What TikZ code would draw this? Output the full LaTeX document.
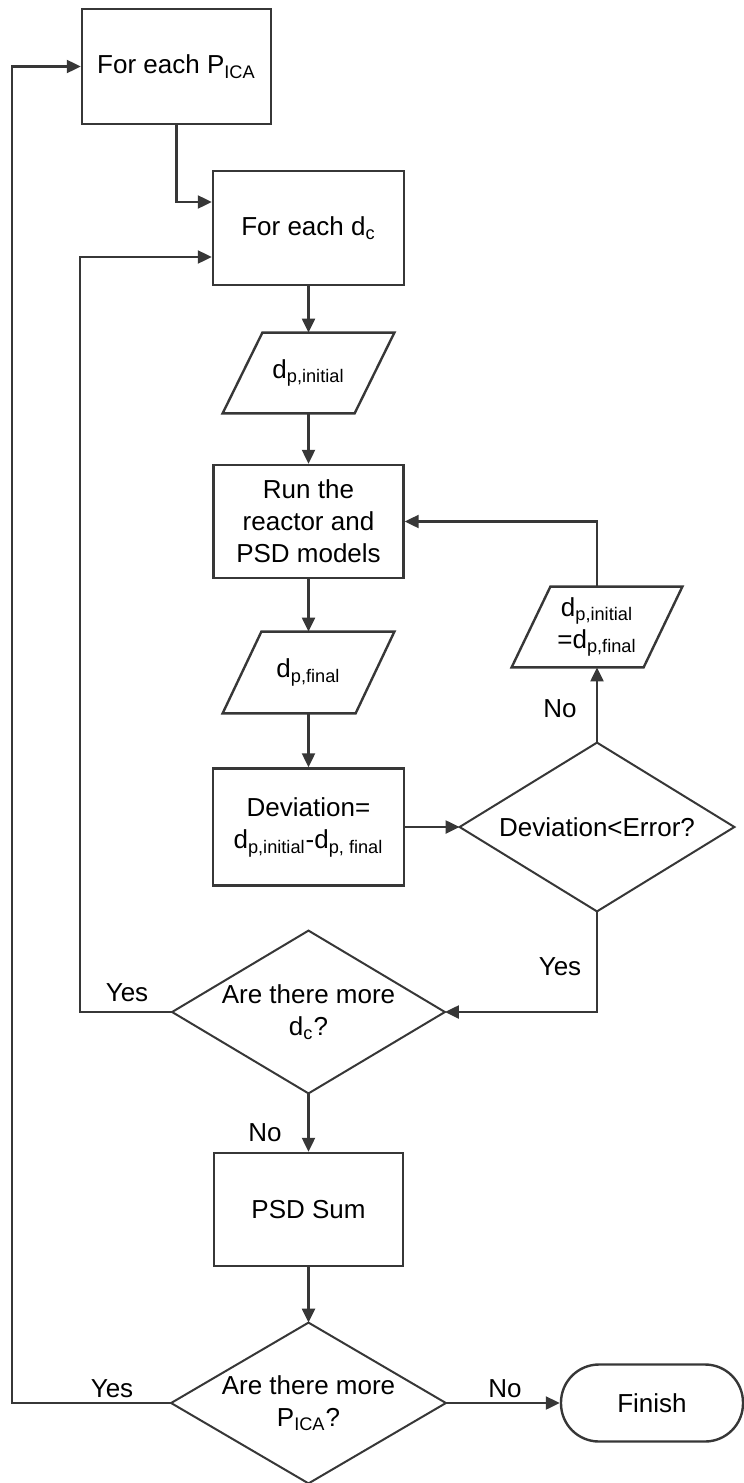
\documentclass[tikz,border=0pt]{standalone}
\usepackage{fontspec}
\setmainfont{Liberation Sans}
\usetikzlibrary{arrows.meta}
\definecolor{lc}{RGB}{55,55,55}
\newcommand{\sbs}[1]{\textsubscript{#1}}
\begin{document}
\begin{tikzpicture}[x=0.5pt,y=-0.5pt,
  font=\fontsize{13}{16}\selectfont,
  shp/.style={draw=lc, line width=1.2pt},
  dshp/.style={draw=lc, line width=1pt},
  blank/.style={inner sep=0pt, align=center},
  proc/.style={shp, inner sep=0pt, align=center},
  arr/.style={draw=lc, line width=1.1pt, -{Triangle[length=7pt,width=6.5pt]}},
  lbl/.style={inner sep=0pt}
]
\useasboundingbox (0,0) rectangle (744,1483);

% process boxes
\node[proc, minimum width=94.5pt, minimum height=57.5pt] (b1) at (176.5,66.5) {For each P\sbs{ICA}};
\node[proc, minimum width=95.5pt, minimum height=57pt] (b2) at (308.5,228) {For each d\sbs{c}};
\node[proc, minimum width=95pt, minimum height=56.5pt] (r1) at (308.5,521.5) {Run the\\reactor and\\PSD models};
\node[proc, minimum width=95.5pt, minimum height=58.5pt] (r2) at (308.5,827) {Deviation=\\d\sbs{p,initial}-d\sbs{p, final}};
\node[proc, minimum width=94.5pt, minimum height=56.5pt] (r3) at (308.5,1209.5) {PSD Sum};
\node[proc, rounded corners=19pt, minimum width=91pt, minimum height=38.5pt] (fin) at (652,1403) {Finish};

% parallelograms
\node[blank, minimum width=85.5pt, minimum height=40pt] (p1) at (308.5,373) {d\sbs{p,initial}};
\draw[shp] (p1.south west) -- ++(132,0) -- (p1.north east) -- ++(-132,0) -- cycle;
\node[blank, minimum width=85.5pt, minimum height=40.5pt] (p2) at (308.5,672.5) {d\sbs{p,final}};
\draw[shp] (p2.south west) -- ++(133,0) -- (p2.north east) -- ++(-133,0) -- cycle;
\node[blank, minimum width=85pt, minimum height=40pt] (p3) at (597,627) {d\sbs{p,initial}\\=d\sbs{p,final}};
\draw[shp] (p3.south west) -- ++(132,0) -- (p3.north east) -- ++(-132,0) -- cycle;

% decisions
\node[blank, minimum width=137pt, minimum height=84pt] (d1) at (597,827) {Deviation<Error?};
\draw[dshp] (d1.north) -- (d1.east) -- (d1.south) -- (d1.west) -- cycle;
\node[blank, minimum width=136pt, minimum height=81pt] (d2) at (308.5,1012) {Are there more\\d\sbs{c}?};
\draw[dshp] (d2.north) -- (d2.east) -- (d2.south) -- (d2.west) -- cycle;
\node[blank, minimum width=137pt, minimum height=80pt] (d3) at (308.5,1403) {Are there more\\P\sbs{ICA}?};
\draw[dshp] (d3.north) -- (d3.east) -- (d3.south) -- (d3.west) -- cycle;

% connectors
\draw[arr] (b1.south) |- ([yshift=13pt]b2.west);
\draw[arr] (b2.south) -- (p1.north);
\draw[arr] (p1.south) -- (r1.north);
\draw[arr] (r1.south) -- (p2.north);
\draw[arr] (p2.south) -- (r2.north);
\draw[arr] (r2.east) -- (d1.west);
\draw[arr] (d1.north) -- (p3.south);
\draw[arr] (p3.north) |- (r1.east);
\draw[arr] (d1.south) |- (d2.east);
\draw[arr] (d2.west) -- ++(-92,0) |- ([yshift=-14.5pt]b2.west);
\draw[arr] (d2.south) -- (r3.north);
\draw[arr] (r3.south) -- (d3.north);
\draw[arr] (d3.west) -- ++(-159,0) |- (b1.west);
\draw[arr] (d3.east) -- (fin.west);

% labels
\node[lbl] at (560,709) {No};
\node[lbl] at (560,967) {Yes};
\node[lbl] at (127,993) {Yes};
\node[lbl] at (265,1133) {No};
\node[lbl] at (112,1389) {Yes};
\node[lbl] at (505,1389) {No};
\end{tikzpicture}
\end{document}
